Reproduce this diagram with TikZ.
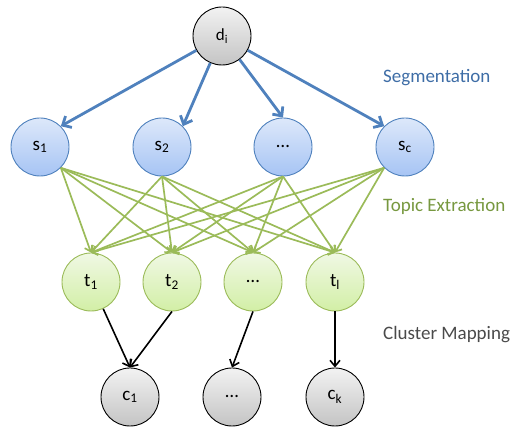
\documentclass[tikz,border=0pt]{standalone}
\usepackage{fontspec}
\setmainfont{Carlito}
\usetikzlibrary{arrows.meta}
\definecolor{segblue}{HTML}{4F81BD}
\definecolor{segtext}{HTML}{3E6DA6}
\definecolor{topgreen}{HTML}{9BBB59}
\definecolor{toptext}{HTML}{77983F}
\definecolor{clustext}{HTML}{4A4A4A}
\definecolor{bluetop}{HTML}{DDE8FA}
\definecolor{bluebot}{HTML}{A6C4F4}
\definecolor{greentop}{HTML}{F0F8E4}
\definecolor{greenbot}{HTML}{D2EFA6}
\definecolor{graytop}{HTML}{F2F2F2}
\definecolor{graybot}{HTML}{C4C4C4}
\begin{document}
\begin{tikzpicture}[x=1pt,y=-1pt,
  circ/.style={circle,minimum size=58pt,inner sep=0pt,line width=0.9pt,font=\fontsize{19}{22}\selectfont},
  graynode/.style={circ,draw=black,top color=graytop,bottom color=graybot},
  bluenode/.style={circ,draw=segblue,top color=bluetop,bottom color=bluebot},
  greennode/.style={circ,draw=topgreen,top color=greentop,bottom color=greenbot},
  bluearr/.style={draw=segblue,line width=2.8pt,-{Straight Barb[length=7pt,width=13pt]}},
  greenarr/.style={draw=topgreen,line width=1.7pt,-{Straight Barb[length=5pt,width=9pt]}},
  blackarr/.style={draw=black,line width=1.6pt,-{Straight Barb[length=6pt,width=10pt]}},
  steplabel/.style={anchor=base west,inner sep=0pt,font=\fontsize{19}{22}\selectfont}
]
\useasboundingbox (0,0) rectangle (515,427);
\node[graynode,font=\fontsize{17}{20}\selectfont] (d) at (222,36) {d\textsubscript{i}};
\node[bluenode] (s1) at (40,147) {s\textsubscript{1}};
\node[bluenode] (s2) at (162,147) {s\textsubscript{2}};
\node[bluenode] (s3) at (283,147) {…};
\node[bluenode] (s4) at (405,147) {s\textsubscript{c}};
\node[greennode] (t1) at (91,282) {t\textsubscript{1}};
\node[greennode] (t2) at (172,282) {t\textsubscript{2}};
\node[greennode] (t3) at (253,282) {…};
\node[greennode] (t4) at (335,282) {t\textsubscript{l}};
\node[graynode] (c1) at (130,397) {c\textsubscript{1}};
\node[graynode] (c3) at (232,397) {…};
\node[graynode] (c4) at (335,397) {c\textsubscript{k}};
\draw[bluearr] (d) -- (s1.north east);
\draw[bluearr] (d) -- (s2.north east);
\draw[bluearr] (d) -- (s3.north);
\draw[bluearr] (d) -- (s4.north west);
\foreach \s/\a in {s1/south east,s2/south,s3/south,s4/south west}{
  \foreach \t in {t1,t2,t3,t4}{
    \draw[greenarr] (\s.\a) -- (\t.north);
  }
}
\draw[blackarr] (t1) -- (c1.north);
\draw[blackarr] (t2.south) -- (c1.north);
\draw[blackarr] (t3.south) -- (c3.north);
\draw[blackarr] (t4.south) -- (c4.north);
\node[steplabel,text=segtext] (lseg) at (383,83) {Segmentation};
\node[steplabel,text=toptext] (ltop) at (383,212) {Topic Extraction};
\node[steplabel,text=clustext] (lclu) at (383,340) {Cluster Mapping};
\end{tikzpicture}
\end{document}
